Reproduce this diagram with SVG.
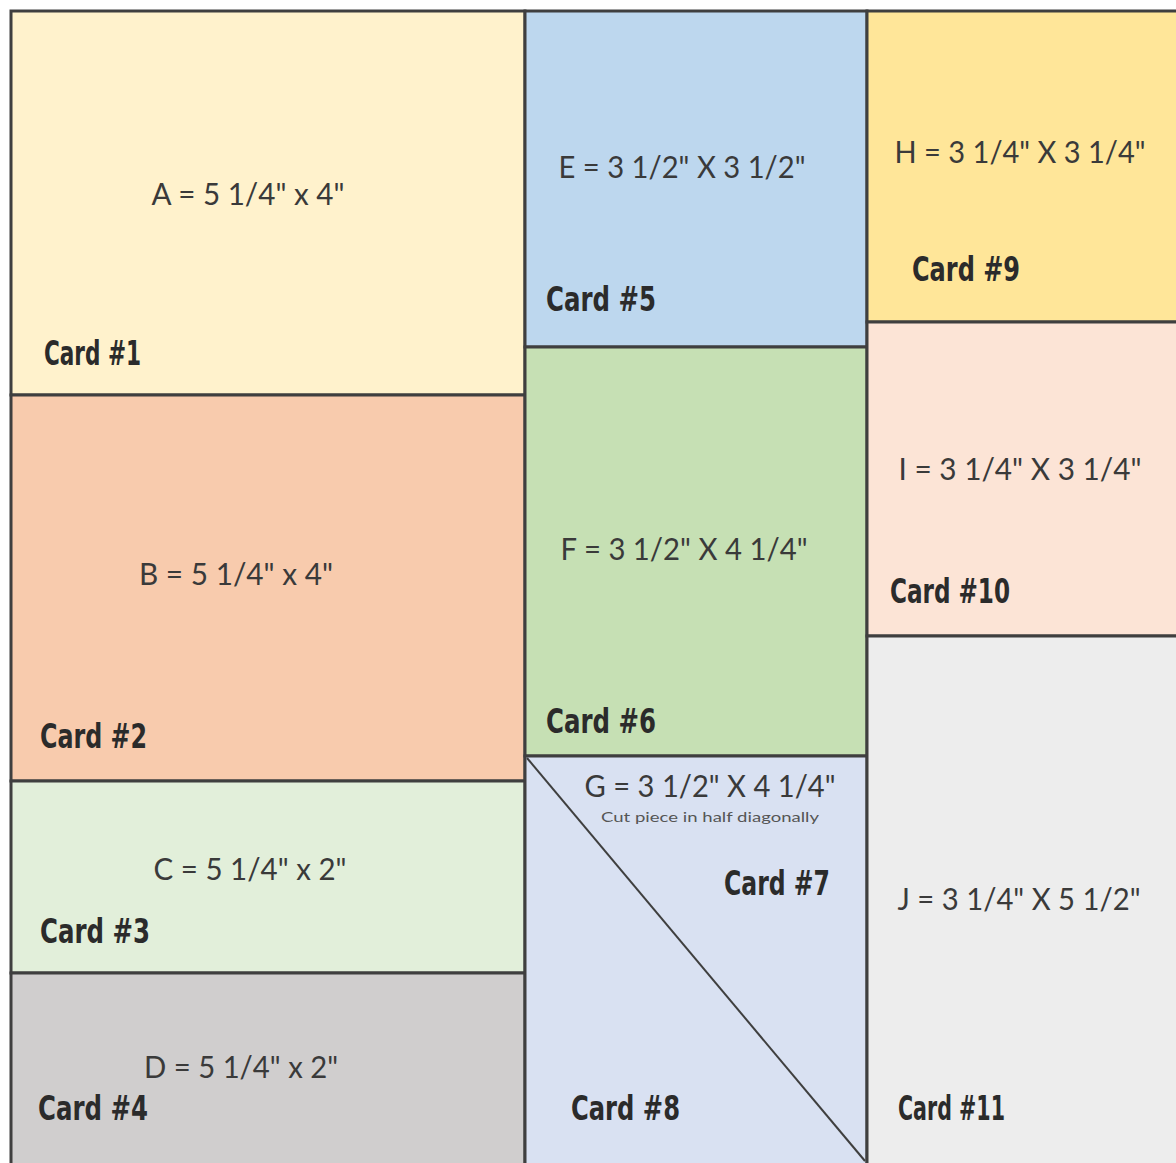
<svg xmlns="http://www.w3.org/2000/svg" width="1176" height="1163" viewBox="0 0 1176 1163">
<style>
.r{stroke:#3f3f3f;stroke-width:3}
.d{font-family:Lato,"Open Sans","Liberation Sans",sans-serif;font-size:30px;fill:#3a3a3a}
.c{font-family:"DejaVu Sans Condensed","DejaVu Sans",sans-serif;font-weight:bold;font-size:33px;fill:#2b2b2b}
.s{font-family:Lato,"Liberation Sans",sans-serif;font-size:14px;fill:#555}
</style>
<rect width="1176" height="1163" fill="#ffffff"/>
<g id="cardA"><rect class="r" x="11" y="11" width="514" height="384" fill="#FFF2CC"/>
<text class="d" x="248" y="205" text-anchor="middle" textLength="193" lengthAdjust="spacingAndGlyphs">A = 5 1/4" x 4"</text>
<text class="c" x="44" y="365" textLength="97" lengthAdjust="spacingAndGlyphs">Card #1</text></g>
<g id="cardB"><rect class="r" x="11" y="395" width="514" height="386" fill="#F8CBAD"/>
<text class="d" x="236" y="585" text-anchor="middle" textLength="194" lengthAdjust="spacingAndGlyphs">B = 5 1/4" x 4"</text>
<text class="c" x="40" y="748" textLength="107" lengthAdjust="spacingAndGlyphs">Card #2</text></g>
<g id="cardC"><rect class="r" x="11" y="781" width="514" height="192" fill="#E2EFDA"/>
<text class="d" x="250" y="880" text-anchor="middle" textLength="193" lengthAdjust="spacingAndGlyphs">C = 5 1/4" x 2"</text>
<text class="c" x="40" y="943" textLength="110" lengthAdjust="spacingAndGlyphs">Card #3</text></g>
<g id="cardD"><rect class="r" x="11" y="973" width="514" height="192" fill="#D0CECE"/>
<text class="d" x="241" y="1078" text-anchor="middle" textLength="194" lengthAdjust="spacingAndGlyphs">D = 5 1/4" x 2"</text>
<text class="c" x="38" y="1120" textLength="110" lengthAdjust="spacingAndGlyphs">Card #4</text></g>
<g id="cardE"><rect class="r" x="525" y="11" width="342" height="336" fill="#BDD7EE"/>
<text class="d" x="682" y="178" text-anchor="middle" textLength="247" lengthAdjust="spacingAndGlyphs">E = 3 1/2" X 3 1/2"</text>
<text class="c" x="546" y="311" textLength="110" lengthAdjust="spacingAndGlyphs">Card #5</text></g>
<g id="cardF"><rect class="r" x="525" y="347" width="342" height="409" fill="#C6E0B4"/>
<text class="d" x="684" y="560" text-anchor="middle" textLength="247" lengthAdjust="spacingAndGlyphs">F = 3 1/2" X 4 1/4"</text>
<text class="c" x="546" y="733" textLength="110" lengthAdjust="spacingAndGlyphs">Card #6</text></g>
<g id="cardG"><rect class="r" x="525" y="756" width="342" height="409" fill="#D9E1F2"/>
<text class="d" x="710" y="797" text-anchor="middle" textLength="251" lengthAdjust="spacingAndGlyphs">G = 3 1/2" X 4 1/4"</text>
<text class="s" x="710" y="822" text-anchor="middle" textLength="218" lengthAdjust="spacingAndGlyphs">Cut piece in half diagonally</text>
<text class="c" x="724" y="895" textLength="106" lengthAdjust="spacingAndGlyphs">Card #7</text>
<text class="c" x="571" y="1120" textLength="109" lengthAdjust="spacingAndGlyphs">Card #8</text></g>
<g id="cardH"><rect class="r" x="867" y="11" width="312" height="311" fill="#FFE699"/>
<text class="d" x="1020" y="163" text-anchor="middle" textLength="251" lengthAdjust="spacingAndGlyphs">H = 3 1/4" X 3 1/4"</text>
<text class="c" x="912" y="281" textLength="108" lengthAdjust="spacingAndGlyphs">Card #9</text></g>
<g id="cardI"><rect class="r" x="867" y="322" width="312" height="314" fill="#FCE4D6"/>
<text class="d" x="1020" y="480" text-anchor="middle" textLength="243" lengthAdjust="spacingAndGlyphs">I = 3 1/4" X 3 1/4"</text>
<text class="c" x="890" y="603" textLength="120" lengthAdjust="spacingAndGlyphs">Card #10</text></g>
<g id="cardJ"><rect class="r" x="867" y="636" width="312" height="529" fill="#EDEDED"/>
<text class="d" x="1019" y="910" text-anchor="middle" textLength="243" lengthAdjust="spacingAndGlyphs">J = 3 1/4" X 5 1/2"</text>
<text class="c" x="898" y="1120" textLength="107" lengthAdjust="spacingAndGlyphs">Card #11</text></g>
<g id="connectors"><line x1="527" y1="758" x2="865" y2="1161" stroke="#3f3f3f" stroke-width="2"/></g>
</svg>
